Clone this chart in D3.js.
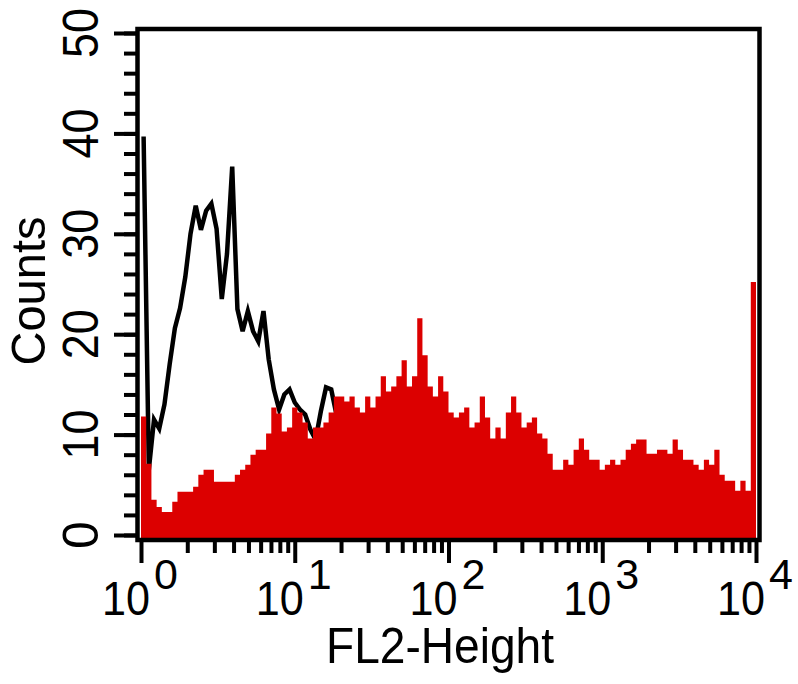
<!DOCTYPE html>
<html><head><meta charset="utf-8">
<script src="https://cdn.jsdelivr.net/npm/d3@7"></script>
<style>body{margin:0;background:#fff}svg{display:block}</style>
</head><body><svg id="c" width="798" height="684"></svg>
<script>
// ---- data ----
const yTickValues = [0, 10, 20, 30, 40, 50];
const xTickExponents = [0, 1, 2, 3, 4];
const xTitle = "FL2-Height";
const yTitle = "Counts";
// stained sample (red filled histogram), 118 log-spaced channels from 10^0 to 10^4
const redCounts = [
 11.8, 7.1, 3.5, 2.8, 2.3, 2.3, 3.3, 4.3, 4.3, 4.3,
 4.8, 6.0, 6.5, 6.5, 5.3, 5.3, 5.3, 5.3, 6.0, 6.5,
 7.0, 8.0, 8.5, 8.5, 10.1, 12.7, 12.1, 10.3, 10.7, 12.7,
 12.2, 11.2, 9.6, 10.7, 10.7, 11.2, 12.2, 13.8, 13.8, 13.3,
 13.8, 12.7, 12.2, 13.8, 12.7, 13.8, 15.8, 14.3, 14.8, 15.8,
 17.4, 14.8, 15.8, 21.6, 17.9, 14.8, 13.8, 15.8, 14.3, 12.2,
 11.7, 12.2, 12.7, 10.7, 11.2, 13.8, 11.7, 9.6, 10.7, 9.6,
 12.2, 13.8, 12.2, 10.7, 11.2, 11.7, 10.1, 9.6, 8.1, 6.5,
 6.5, 7.5, 7.0, 8.5, 9.6, 8.5, 7.5, 7.5, 6.5, 7.0,
 7.5, 7.0, 7.5, 8.5, 9.1, 9.5, 9.5, 8.1, 8.1, 8.5,
 8.5, 8.1, 9.5, 8.5, 7.5, 7.5, 7.0, 6.5, 7.5, 7.0,
 8.5, 6.0, 5.4, 5.4, 4.4, 5.4, 4.4, 25.2
];
// isotype control (black outline), same channels, first 60
const blackCounts = [
 39.7, 6.5, 11.5, 10.6, 13.0, 17.0, 20.6, 22.6, 25.7, 30.0,
 32.8, 30.4, 32.3, 33.0, 30.5, 23.5, 28.0, 36.7, 22.5, 20.3,
 22.3, 20.3, 19.3, 22.3, 17.5, 14.5, 12.5, 14.0, 14.5, 13.2,
 12.5, 12.0, 10.5, 9.5, 12.3, 14.7, 14.5, 12.0, 10.0, 9.0,
 7.5, 6.0, 5.0, 4.0, 3.5, 3.0, 2.5, 2.0, 2.0, 1.5,
 1.5, 1.0, 1.0, 1.0, 0.5, 0.5, 0.5, 0, 0, 0
];

// ---- chart ----
const svg = d3.select("#c");
const FONT = "'Liberation Sans', Arial, sans-serif";
const x = d3.scaleLog().domain([1, 1e4]).range([141, 756]);
const y = d3.scaleLinear().domain([0, 50]).range([535, 33]);
const N = redCounts.length;
const edge = i => Math.pow(10, 4 * i / N);
const base = 538;

svg.append("defs").append("clipPath").attr("id", "plot")
  .append("rect").attr("x", 139).attr("y", 31).attr("width", 620).attr("height", 508);

const plot = svg.append("g").attr("clip-path", "url(#plot)");

// black isotype line (drawn beneath red)
plot.append("path").datum(blackCounts)
  .attr("d", d3.line()
    .x((d, i) => x(Math.pow(10, 4 * (i + 0.5) / N)))
    .y(d => y(d)))
  .attr("fill", "none").attr("stroke", "#000").attr("stroke-width", 4.5)
  .attr("stroke-linejoin", "miter");

// red filled histogram
const redData = redCounts.concat([redCounts[N - 1]]);
plot.append("path").datum(redData)
  .attr("d", d3.area()
    .x((d, i) => x(edge(i)))
    .y0(base).y1(d => y(d))
    .curve(d3.curveStepAfter))
  .attr("fill", "#dc0000");

// frame
svg.append("rect").attr("x", 137.5).attr("y", 29).attr("width", 622).attr("height", 511)
  .attr("fill", "none").attr("stroke", "#000").attr("stroke-width", 4.5);

function styleAxis(g) {
  g.select(".domain").remove();
  g.selectAll(".tick line").attr("stroke", "#000").attr("stroke-width", 4);
}

// y ticks
svg.append("g").attr("transform", "translate(138,0)")
  .call(d3.axisLeft(y).tickValues(d3.range(0, 51, 2)).tickSize(14).tickFormat(""))
  .call(styleAxis);
svg.append("g").attr("transform", "translate(138,0)")
  .call(d3.axisLeft(y).tickValues(yTickValues).tickSize(24).tickFormat(""))
  .call(styleAxis);

// x ticks
const minorX = [];
for (let k = 0; k < 4; k++) for (let m = 2; m <= 9; m++) minorX.push(m * Math.pow(10, k));
svg.append("g").attr("transform", "translate(0,539)")
  .call(d3.axisBottom(x).tickValues(minorX).tickSize(14).tickFormat(""))
  .call(styleAxis);
svg.append("g").attr("transform", "translate(0,539)")
  .call(d3.axisBottom(x).tickValues(xTickExponents.map(e => Math.pow(10, e))).tickSize(24).tickFormat(""))
  .call(styleAxis);

// y labels (rotated)
svg.append("g").selectAll("text").data(yTickValues).join("text")
  .attr("transform", d => `translate(98,${y(d)}) rotate(-90)`)
  .attr("text-anchor", "middle")
  .attr("font-family", FONT).attr("font-size", 50)
  .each(function(d) {
    const s = String(d);
    if (s.length > 1) d3.select(this).attr("textLength", 25 * s.length).attr("lengthAdjust", "spacingAndGlyphs");
  })
  .text(d => d);

// x labels 10^e
const xl = svg.append("g").selectAll("g").data(xTickExponents).join("g");
xl.append("text")
  .attr("x", d => x(Math.pow(10, d)) + 9).attr("y", 615)
  .attr("text-anchor", "end")
  .attr("font-family", FONT).attr("font-size", 49)
  .attr("textLength", 48).attr("lengthAdjust", "spacingAndGlyphs")
  .text("10");
xl.append("text")
  .attr("x", d => x(Math.pow(10, d)) + 13).attr("y", 589)
  .attr("text-anchor", "start")
  .attr("font-family", FONT).attr("font-size", 43)
  .text(d => d);

// titles
svg.append("text")
  .attr("x", 440).attr("y", 663).attr("text-anchor", "middle")
  .attr("font-family", FONT).attr("font-size", 50)
  .attr("textLength", 228).attr("lengthAdjust", "spacingAndGlyphs")
  .text(xTitle);
svg.append("text")
  .attr("transform", "translate(45,291) rotate(-90)").attr("text-anchor", "middle")
  .attr("font-family", FONT).attr("font-size", 49)
  .attr("textLength", 149).attr("lengthAdjust", "spacingAndGlyphs")
  .text(yTitle);
</script></body></html>
